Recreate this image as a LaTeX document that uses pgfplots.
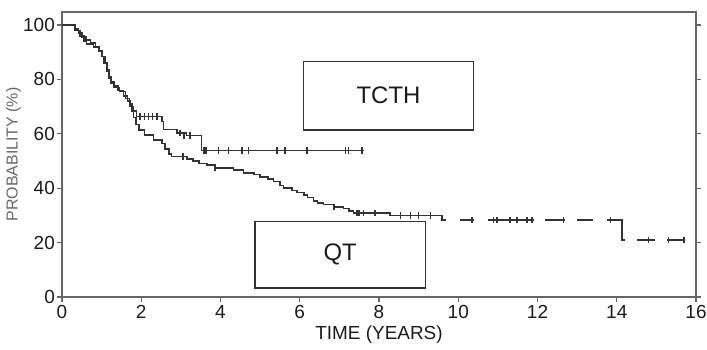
\documentclass[border=0pt]{standalone}
\usepackage{fontspec}
\setmainfont{Liberation Sans}
\usepackage{pgfplots}
\pgfplotsset{compat=1.18}
\definecolor{axgray}{HTML}{666666}
\definecolor{curve}{HTML}{333333}
\definecolor{txt}{HTML}{1A1A1A}
\begin{document}
\begin{tikzpicture}
\begin{axis}[name=ax, scale only axis, width=634bp, height=285bp,
  xmin=0, xmax=16, ymin=0, ymax=104.8,
  xtick={0,2,...,16}, ytick={0,20,...,100},
  tick align=outside, xtick pos=lower, ytick pos=both, yticklabel pos=left,
  major tick length=5bp,
  axis line style={draw=axgray, line width=1.8bp},
  every tick/.style={draw=axgray, line width=1.2bp},
  tick label style={font=\fontsize{19}{19}\selectfont, text=txt},
  yticklabel style={inner xsep=2bp},
  /pgf/number format/assume math mode=true,
  xlabel={TIME (YEARS)},
  xlabel style={font=\fontsize{19}{19}\selectfont, text=txt},
  ylabel={PROBABILITY (\%)},
  ylabel style={font=\fontsize{16}{16}\selectfont, text=axgray, inner sep=0pt},
  ylabel shift=0bp,
]
% TCTH
\addplot[const plot, curve, line width=1.6bp] coordinates {
(0,100) (0.33,98.5) (0.42,97) (0.5,95.5) (0.6,94.5) (0.72,93.5) (0.85,92)
(0.95,90.5) (1.02,88.5) (1.08,86) (1.13,83.5) (1.18,81) (1.24,79) (1.32,77.5)
(1.42,76) (1.55,74) (1.65,72) (1.72,70) (1.8,68.5) (1.88,66.3) (2.52,64.5)
(2.56,61.6) (2.9,60.2) (3.14,59.4) (3.52,53.9) (7.61,53.9)};
\addplot[only marks, mark=|, mark size=3.2bp, curve, line width=1.6bp] coordinates {
(1.97,66.3) (2.08,66.3) (2.18,66.3) (2.28,66.3) (2.39,66.3) (2.98,60.2) (3.08,59.4) (3.23,59.4)
(3.57,53.9) (3.61,53.9) (3.65,53.9) (3.95,53.9) (4.2,53.9) (4.54,53.9) (4.71,53.9)
(5.42,53.9) (5.63,53.9) (6.18,53.9) (7.15,53.9) (7.23,53.9) (7.57,53.9)};
% QT
\addplot[const plot, curve, line width=1.6bp] coordinates {
(0,100) (0.33,98) (0.45,96) (0.55,94) (0.62,93) (0.8,92) (0.92,90.5) (1.0,88.5)
(1.06,86) (1.12,83) (1.17,80.5) (1.22,78.5) (1.3,77) (1.45,75.5) (1.6,73) (1.7,71)
(1.76,68.5) (1.8,66) (1.86,63.5) (1.95,61.5) (2.08,59.6) (2.31,57.7) (2.52,56.5)
(2.6,54.5) (2.7,52.5) (2.76,51.6) (3.15,50.8) (3.3,50) (3.45,49.1) (3.66,48.5)
(3.86,47.5) (4.33,46.6) (4.58,45.6) (4.85,45) (5.0,44.2) (5.2,43.3) (5.34,42.4)
(5.5,41) (5.59,40) (5.8,39.2) (5.93,38.5) (6.1,37.5) (6.2,36.6) (6.35,35.3)
(6.45,34.5) (6.6,34) (6.86,33.2) (7.1,32.6) (7.25,31.7) (7.36,30.8) (8.28,30.0)
(9.59,28.3) (9.7,28.3)};
\addplot[curve, line width=1.6bp] coordinates {(10.05,28.3) (10.4,28.3)};
\addplot[curve, line width=1.6bp] coordinates {(10.75,28.3) (11.9,28.3)};
\addplot[curve, line width=1.6bp] coordinates {(12.2,28.3) (12.7,28.3)};
\addplot[curve, line width=1.6bp] coordinates {(13.0,28.3) (13.4,28.3)};
\addplot[curve, line width=1.6bp] coordinates {(13.75,28.3) (14.13,28.3) (14.13,21) (14.2,21)};
\addplot[curve, line width=1.6bp] coordinates {(14.51,21) (14.97,21)};
\addplot[curve, line width=1.6bp] coordinates {(15.27,21) (15.73,21)};
\addplot[only marks, mark=|, mark size=3.2bp, curve, line width=1.6bp] coordinates {
(3.06,51.6) (3.86,47.5) (6.86,33.2) (7.44,30.8) (7.5,30.8) (7.61,30.8) (7.9,30.8)
(8.54,30.0) (8.79,30.0) (9.0,30.0) (9.3,30.0)
(10.35,28.3) (10.89,28.3) (10.98,28.3) (11.31,28.3) (11.48,28.3) (11.73,28.3) (11.86,28.3)
(12.66,28.3) (13.84,28.3) (14.8,21) (15.31,21) (15.69,21)};
% label boxes
\draw[black!80, line width=1.3bp] (axis cs:6.09,86.5) rectangle (axis cs:10.38,61.4);
\node[text=txt, font=\fontsize{24}{24}\selectfont] at (axis cs:8.24,74) {TCTH};
\draw[black!80, line width=1.3bp] (axis cs:4.87,27.7) rectangle (axis cs:9.17,3.3);
\node[text=txt, font=\fontsize{24}{24}\selectfont] at (axis cs:7.02,15.5) {QT};
\end{axis}
\pgfresetboundingbox
\path ([shift={(-62bp,-53bp)}]ax.south west) rectangle ([shift={(11bp,12bp)}]ax.north east);
\end{tikzpicture}
\end{document}
